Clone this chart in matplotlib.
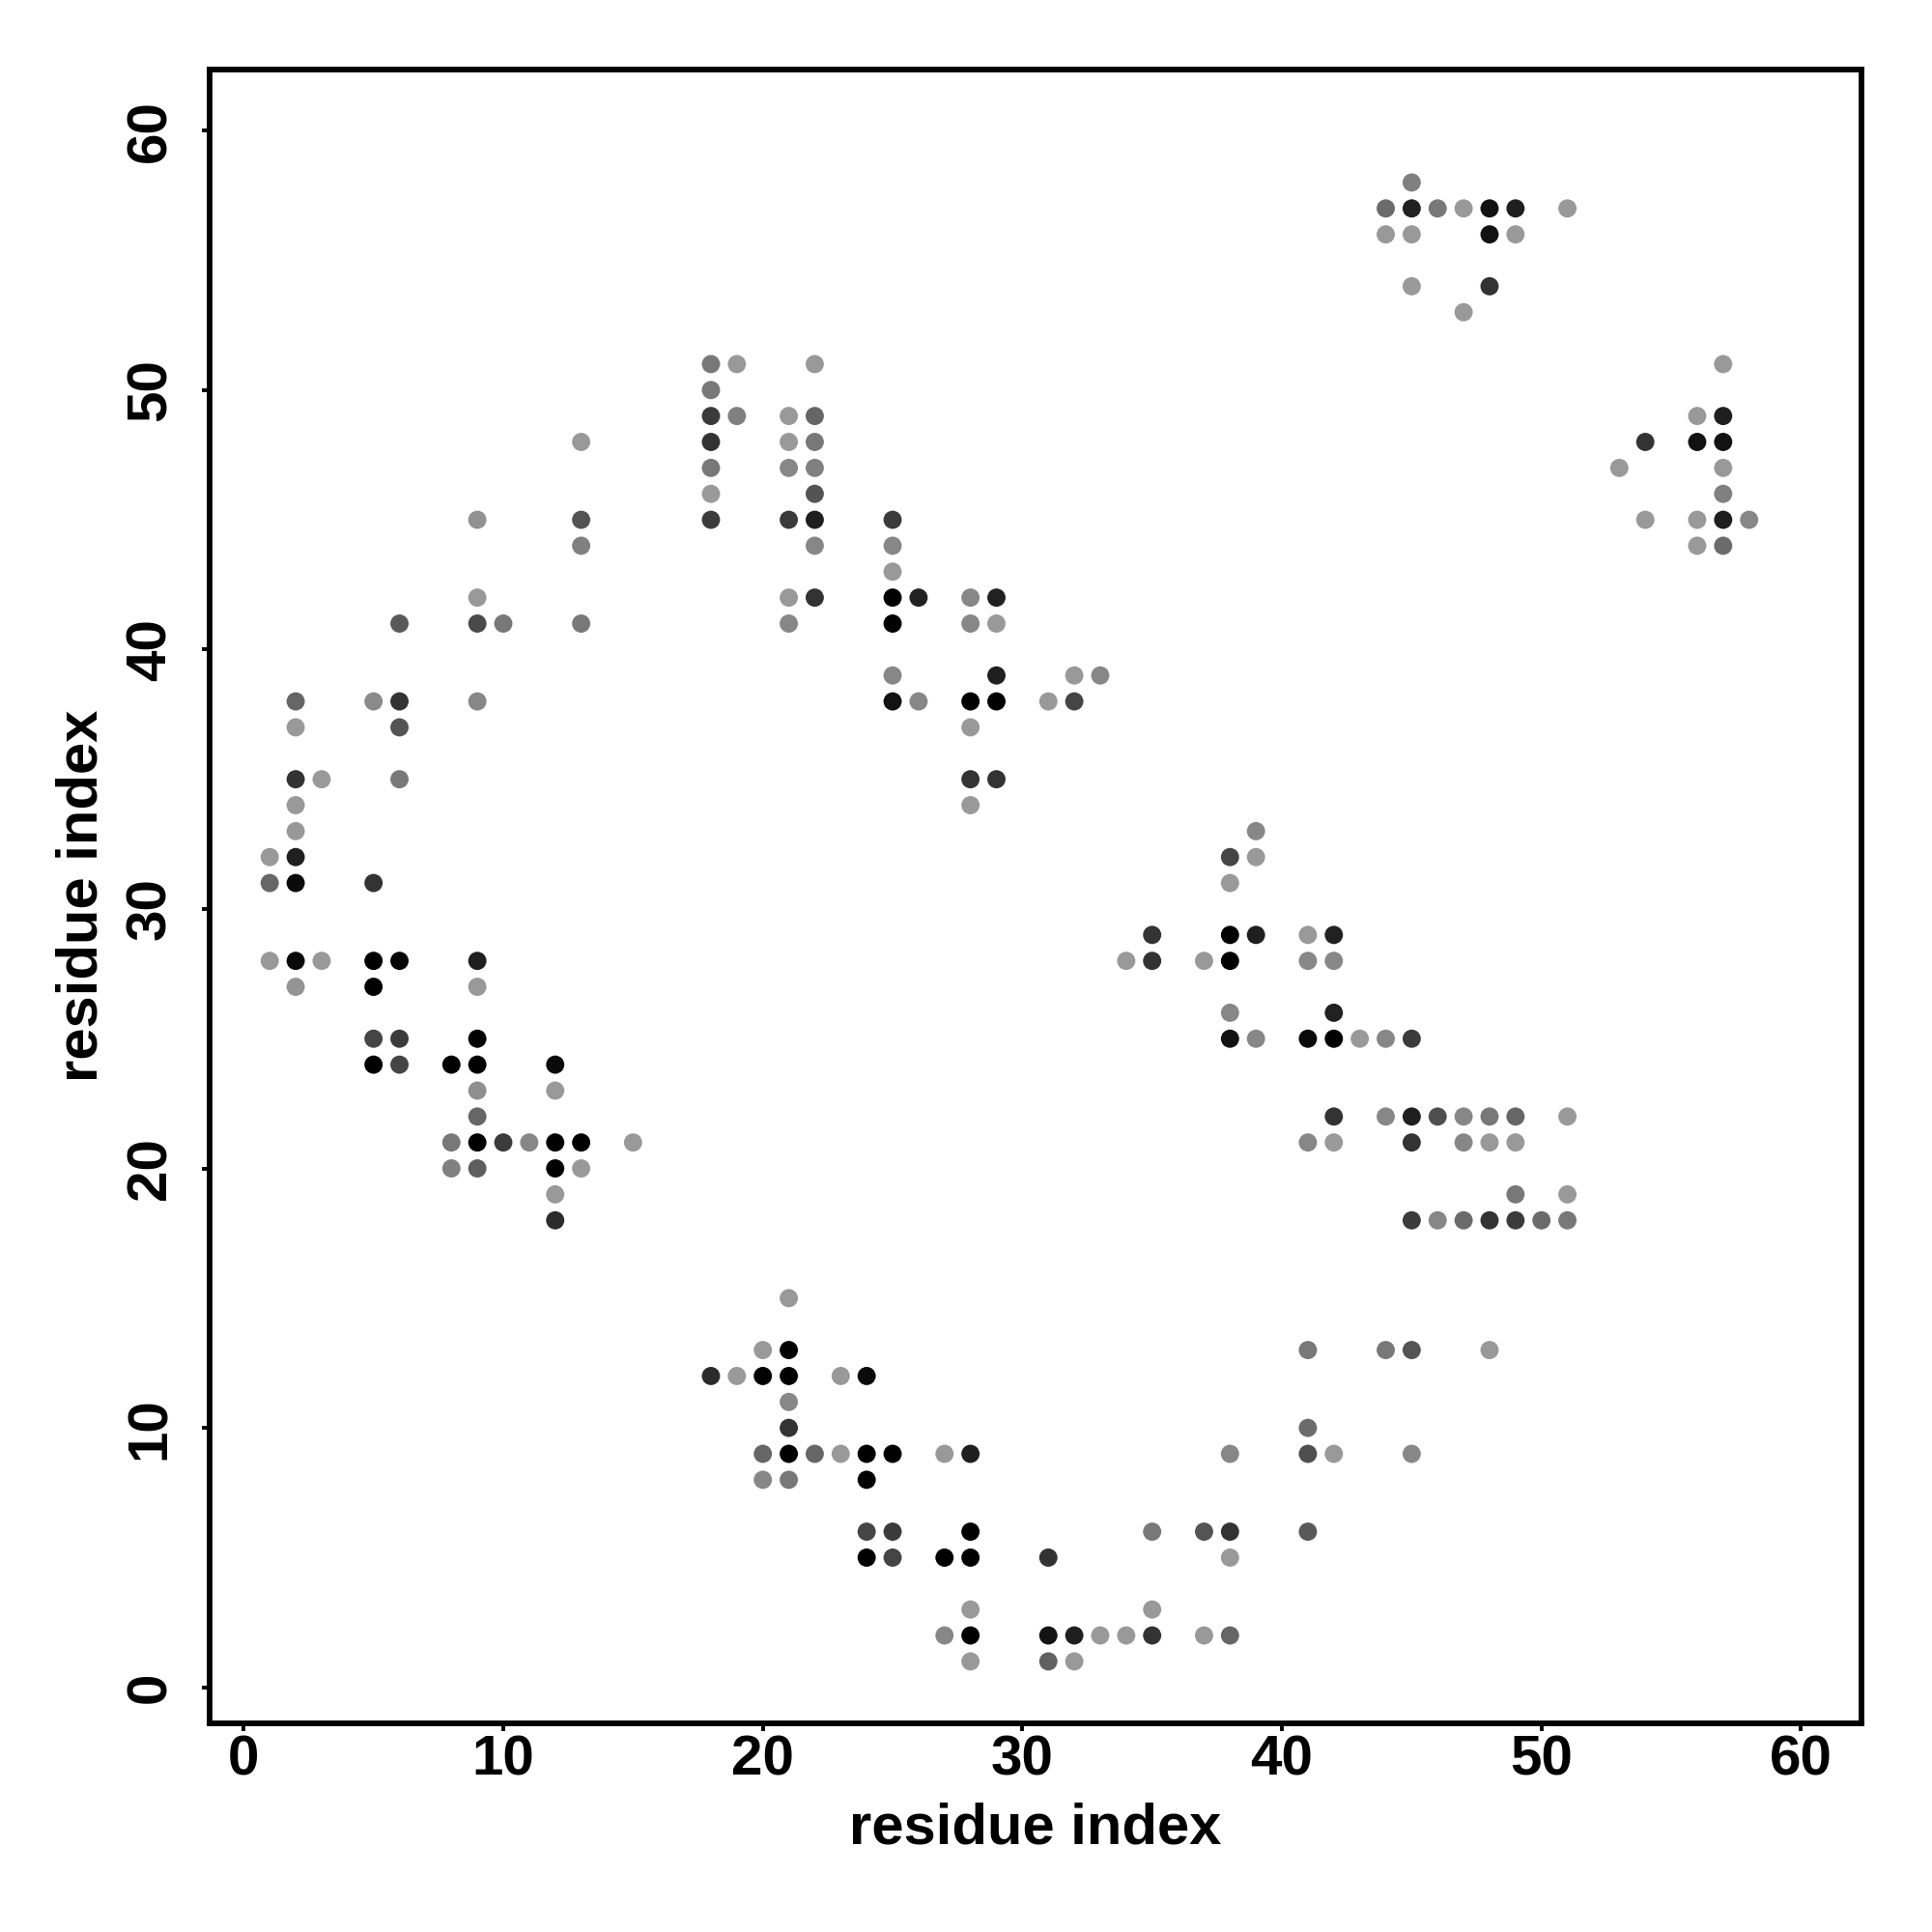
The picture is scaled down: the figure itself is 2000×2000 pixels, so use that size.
import matplotlib
matplotlib.use("Agg")
import matplotlib.pyplot as plt

# contact map: residue i, residue j, grey level (0 = black, 0.6 = light grey)
res_i = [
    # left block
    6, 9, 10, 13,
    2, 5, 6, 9,
    2, 6,
    2, 3, 6,
    2, 2,
    1, 2,
    1, 2, 5,
    1, 2, 3, 5, 6, 9,
    2, 5, 9,
    5, 6, 9,
    5, 6, 8, 9, 12,
    9, 12,
    9,
    8, 9, 10, 11, 12, 13, 15,
    8, 9, 12, 13,
    12, 12,
    # upper left
    9, 13, 13, 9, 13,
    18, 19, 18, 18, 19, 18, 18, 18, 18,
    22, 21, 22, 21, 22, 21, 22, 22,
    21, 22, 25, 22, 25, 25,
    21, 22, 25, 26, 28, 29,
    21, 25, 28, 29,
    25, 29, 32, 33,
    25, 26, 28, 29, 31, 32,
    28, 28, 29, 28,
    # middle right
    39, 38, 39, 38,
    35, 38, 39, 41, 42,
    34, 35, 37, 38, 41, 42,
    38, 42,
    38, 39, 41, 42, 43, 44, 45,
    42, 44, 45, 46, 47, 48, 49, 51,
    41, 42, 45, 47, 48, 49,
    49, 51,
    45, 46, 47, 48, 49, 50, 51,
    # lower band
    21, 20, 21,
    18, 19, 20, 21, 23, 24,
    21, 21, 41,
    20, 21, 22, 23, 24, 25, 27, 28, 38, 41, 42, 45,
    20, 21, 24,
    24, 25, 28, 35, 37, 38, 41,
    24, 25, 27, 28, 31, 38,
    28, 35,
    27, 28, 31, 32, 33, 34, 35, 37, 38,
    28, 31, 32,
    41, 44, 45, 48,
    # upper right
    45,
    44, 45, 46, 47, 48, 49, 51,
    44, 45, 48, 49,
    45, 48, 47,
    57, 56, 57, 54, 56, 57, 53, 57, 57,
    54, 56, 57, 58, 56, 57,
]
res_j = [
    41, 41, 41, 41,
    38, 38, 38, 38,
    37, 37,
    35, 35, 35,
    34, 33,
    32, 32,
    31, 31, 31,
    28, 28, 28, 28, 28, 28,
    27, 27, 27,
    25, 25, 25,
    24, 24, 24, 24, 24,
    23, 23,
    22,
    21, 21, 21, 21, 21, 21, 21,
    20, 20, 20, 20,
    19, 18,
    45, 45, 44, 42, 48,
    51, 51, 50, 49, 49, 48, 47, 46, 45,
    51, 49, 49, 48, 48, 47, 47, 46,
    45, 45, 45, 44, 44, 43,
    42, 42, 42, 42, 42, 42,
    41, 41, 41, 41,
    39, 39, 39, 39,
    38, 38, 38, 38, 38, 38,
    37, 35, 35, 34,
    33, 32, 32, 31,
    29, 29, 29, 29, 29,
    28, 28, 28, 28, 28, 28,
    26, 26,
    25, 25, 25, 25, 25, 25, 25,
    22, 22, 22, 22, 22, 22, 22, 22,
    21, 21, 21, 21, 21, 21,
    19, 19,
    18, 18, 18, 18, 18, 18, 18,
    15, 13, 13,
    12, 12, 12, 12, 12, 12,
    11, 10, 10,
    9, 9, 9, 9, 9, 9, 9, 9, 9, 9, 9, 9,
    8, 8, 8,
    6, 6, 6, 6, 6, 6, 6,
    5, 5, 5, 5, 5, 5,
    3, 3,
    2, 2, 2, 2, 2, 2, 2, 2, 2,
    1, 1, 1,
    13, 13, 13, 13,
    58,
    57, 57, 57, 57, 57, 57, 57,
    56, 56, 56, 56,
    54, 54, 53,
    51, 49, 49, 48, 48, 48, 47, 47, 46,
    45, 45, 45, 45, 44, 44,
]
shade = [
    0.35, 0.29, 0.47, 0.47,
    0.40, 0.54, 0.20, 0.53,
    0.60, 0.33,
    0.20, 0.60, 0.47,
    0.60, 0.60,
    0.60, 0.12,
    0.40, 0.04, 0.20,
    0.60, 0.04, 0.60, 0.00, 0.02, 0.12,
    0.58, 0.00, 0.60,
    0.27, 0.23, 0.00,
    0.00, 0.27, 0.00, 0.00, 0.04,
    0.56, 0.60,
    0.40,
    0.47, 0.00, 0.23, 0.53, 0.00, 0.00, 0.60,
    0.50, 0.37, 0.00, 0.60,
    0.60, 0.17,
    0.57, 0.33, 0.50, 0.60, 0.60,
    0.47, 0.60, 0.47, 0.23, 0.50, 0.20, 0.47, 0.60, 0.23,
    0.60, 0.60, 0.40, 0.60, 0.47, 0.53, 0.50, 0.33,
    0.23, 0.12, 0.23, 0.53, 0.53, 0.60,
    0.60, 0.20, 0.00, 0.13, 0.53, 0.13,
    0.53, 0.00, 0.53, 0.60,
    0.53, 0.12, 0.60, 0.53,
    0.07, 0.53, 0.00, 0.00, 0.60, 0.27,
    0.60, 0.20, 0.20, 0.60,
    0.53, 0.27, 0.60, 0.60,
    0.20, 0.00, 0.12, 0.60, 0.13,
    0.60, 0.20, 0.60, 0.00, 0.53, 0.53,
    0.53, 0.13,
    0.07, 0.53, 0.04, 0.00, 0.60, 0.53, 0.23,
    0.20, 0.53, 0.12, 0.31, 0.53, 0.47, 0.40, 0.60,
    0.53, 0.60, 0.20, 0.53, 0.60, 0.60,
    0.47, 0.60,
    0.23, 0.53, 0.42, 0.20, 0.23, 0.42, 0.47,
    0.60, 0.60, 0.00,
    0.17, 0.60, 0.00, 0.00, 0.60, 0.04,
    0.53, 0.20, 0.42,
    0.40, 0.00, 0.40, 0.60, 0.00, 0.00, 0.60, 0.12, 0.53, 0.31, 0.60, 0.53,
    0.53, 0.47, 0.00,
    0.27, 0.23, 0.00, 0.47, 0.33, 0.20, 0.35,
    0.00, 0.27, 0.00, 0.00, 0.20, 0.60,
    0.60, 0.60,
    0.53, 0.00, 0.07, 0.12, 0.60, 0.60, 0.20, 0.60, 0.40,
    0.60, 0.38, 0.60,
    0.47, 0.47, 0.33, 0.60,
    0.50,
    0.42, 0.13, 0.47, 0.60, 0.07, 0.12, 0.60,
    0.60, 0.60, 0.07, 0.60,
    0.60, 0.20, 0.60,
    0.60, 0.60, 0.12, 0.20, 0.07, 0.07, 0.60, 0.60, 0.50,
    0.60, 0.60, 0.12, 0.53, 0.60, 0.42,
]

tick_vals = [0, 10, 20, 30, 40, 50, 60]

plt.rcParams['font.family'] = ['Liberation Sans', 'DejaVu Sans']
plt.rcParams['font.weight'] = 'bold'

fig = plt.figure(figsize=(20, 20), dpi=100)
ax = fig.add_axes([0.1083, 0.1081, 0.8552, 0.856])

colors = [(g, g, g) for g in shade]
ax.scatter(res_i, res_j, s=185, c=colors, linewidths=0)

ax.set_xlim(-1.33, 62.33)
ax.set_ylim(-1.38, 62.36)
ax.set_xticks(tick_vals)
ax.set_yticks(tick_vals)

for sp in ax.spines.values():
    sp.set_linewidth(4.2)
ax.tick_params(axis='both', length=6, width=2.8, labelsize=42)
ax.tick_params(axis='x', pad=2.5)
ax.tick_params(axis='y', pad=18, labelrotation=90)
for lab in ax.get_xticklabels() + ax.get_yticklabels():
    lab.set_fontweight('bold')
for lab in ax.get_yticklabels():
    lab.set_va('center')

ax.set_xlabel('residue index', fontsize=43, fontweight='bold')
ax.set_ylabel('residue index', fontsize=43, fontweight='bold')
ax.xaxis.set_label_coords(0.5, -0.048)
ax.yaxis.set_label_coords(-0.061, 0.5)

fig.savefig('out.png', dpi=100, facecolor='white')
